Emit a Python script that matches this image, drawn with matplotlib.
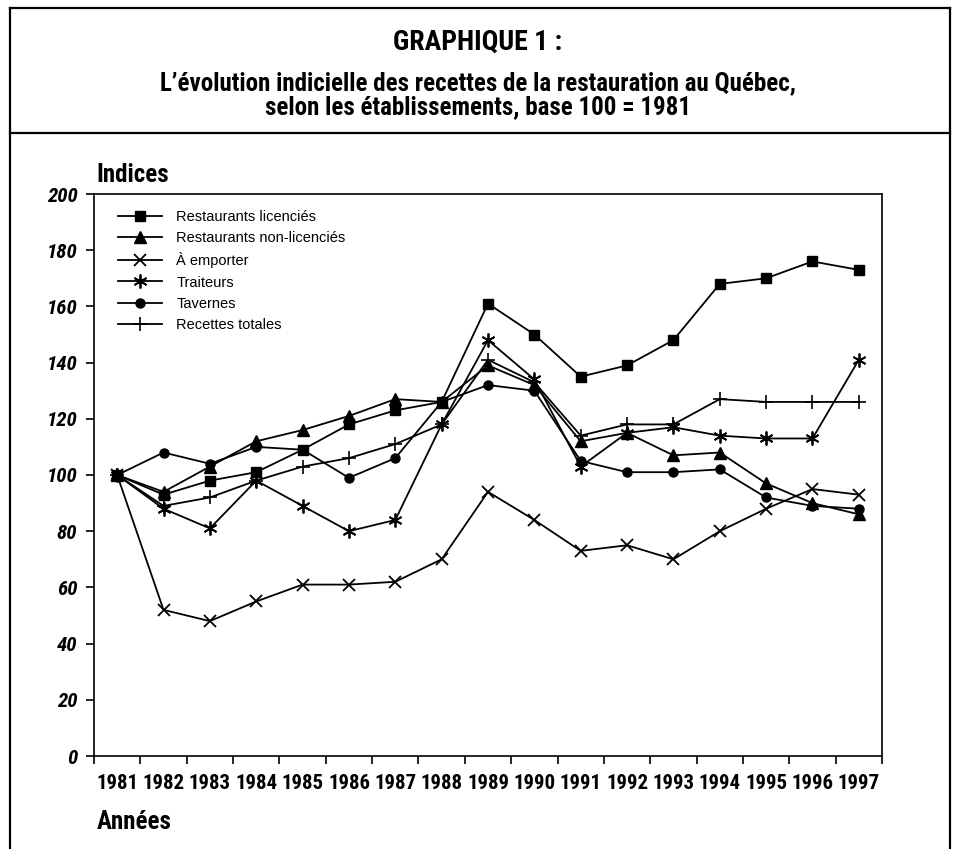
import matplotlib
matplotlib.use('Agg')
import matplotlib.pyplot as plt
from matplotlib.lines import Line2D

years = [str(y) for y in range(1981, 1998)]
licencies = [100, 93, 98, 101, 109, 118, 123, 126, 161, 150, 135, 139, 148, 168, 170, 176, 173]
non_licencies = [100, 94, 103, 112, 116, 121, 127, 126, 139, 132, 112, 115, 107, 108, 97, 90, 86]
emporter = [100, 52, 48, 55, 61, 61, 62, 70, 94, 84, 73, 75, 70, 80, 88, 95, 93]
traiteurs = [100, 88, 81, 98, 89, 80, 84, 118, 148, 134, 103, 115, 117, 114, 113, 113, 141]
tavernes = [100, 108, 104, 110, 109, 99, 106, 126, 132, 130, 105, 101, 101, 102, 92, 89, 88]
totales = [100, 89, 92, 98, 103, 106, 111, 118, 141, 133, 114, 118, 118, 127, 126, 126, 126]
series_names = ["Restaurants licenciés", "Restaurants non-licenciés", "À emporter",
                "Traiteurs", "Tavernes", "Recettes totales"]
y_ticks = [0, 20, 40, 60, 80, 100, 120, 140, 160, 180, 200]

COND = ['Roboto Condensed', 'Liberation Sans Narrow', 'Roboto', 'DejaVu Sans']
REG = ['Liberation Sans', 'DejaVu Sans']

W, H = 955, 849
fig = plt.figure(figsize=(W / 100, H / 100), dpi=100)

def fx(px):
    return px / W

def fy(py):
    return 1 - py / H

# frame
lw = 1.6
fig.add_artist(Line2D([fx(10), fx(950)], [fy(8), fy(8)], color='black', lw=lw))
fig.add_artist(Line2D([fx(10), fx(10)], [fy(8), fy(849)], color='black', lw=lw))
fig.add_artist(Line2D([fx(950), fx(950)], [fy(8), fy(849)], color='black', lw=lw))
fig.add_artist(Line2D([fx(10), fx(950)], [fy(133), fy(133)], color='black', lw=lw))

fig.text(0.5, fy(42), "GRAPHIQUE 1 :", ha='center', va='center',
         family=COND, weight='bold', fontsize=20)
fig.text(0.5, fy(83), "L’évolution indicielle des recettes de la restauration au Québec,",
         ha='center', va='center', family=COND, weight='bold', fontsize=18)
fig.text(0.5, fy(107), "selon les établissements, base 100 = 1981",
         ha='center', va='center', family=COND, weight='bold', fontsize=18)

ax_l, ax_r, ax_t, ax_b = 94, 882, 194, 756
ax = fig.add_axes([fx(ax_l), fy(ax_b), fx(ax_r - ax_l), (ax_b - ax_t) / H])

x = list(range(len(years)))
style = dict(color='black', lw=1.3)
ax.plot(x, licencies, marker='s', ms=7, **style, label=series_names[0])
ax.plot(x, non_licencies, marker='^', ms=8, **style, label=series_names[1])
ax.plot(x, emporter, marker='x', ms=9, mew=1.3, **style, label=series_names[2])
ax.plot(x, traiteurs, marker=(6, 2, 0), ms=10, mew=1.3, **style, label=series_names[3])
ax.plot(x, tavernes, marker='o', ms=6.5, **style, label=series_names[4])
ax.plot(x, totales, marker='+', ms=10, mew=1.2, **style, label=series_names[5])

ax.set_xlim(-0.5, len(years) - 0.5)
ax.set_ylim(0, 200)

# x: ticks at boundaries, labels at centers
ax.set_xticks([i - 0.5 for i in range(len(years) + 1)])
ax.set_xticklabels([])
ax.set_xticks(x, minor=True)
ax.set_xticklabels(years, minor=True, family=COND, weight='bold', fontsize=15)
ax.tick_params(axis='x', which='major', direction='out', length=6, width=1.2)
ax.tick_params(axis='x', which='minor', length=0, pad=13)

ax.set_yticks(y_ticks)
ax.set_yticklabels([str(v) for v in y_ticks], family=COND, weight='bold',
                   style='italic', fontsize=15)
ax.tick_params(axis='y', direction='out', length=6, width=1.2, pad=6)

for s in ax.spines.values():
    s.set_linewidth(1.2)

leg = ax.legend(loc='upper left', bbox_to_anchor=(0.012, 0.998), frameon=False,
                handlelength=3.0, handletextpad=1.0, labelspacing=0.5,
                prop={'family': REG, 'size': 10.5}, borderaxespad=0.6)

fig.text(fx(96), fy(175), "Indices", ha='left', va='center',
         family=COND, weight='bold', fontsize=18)
fig.text(fx(97), fy(822), "Années", ha='left', va='center',
         family=COND, weight='bold', fontsize=18)

fig.savefig('out.png', dpi=100)
